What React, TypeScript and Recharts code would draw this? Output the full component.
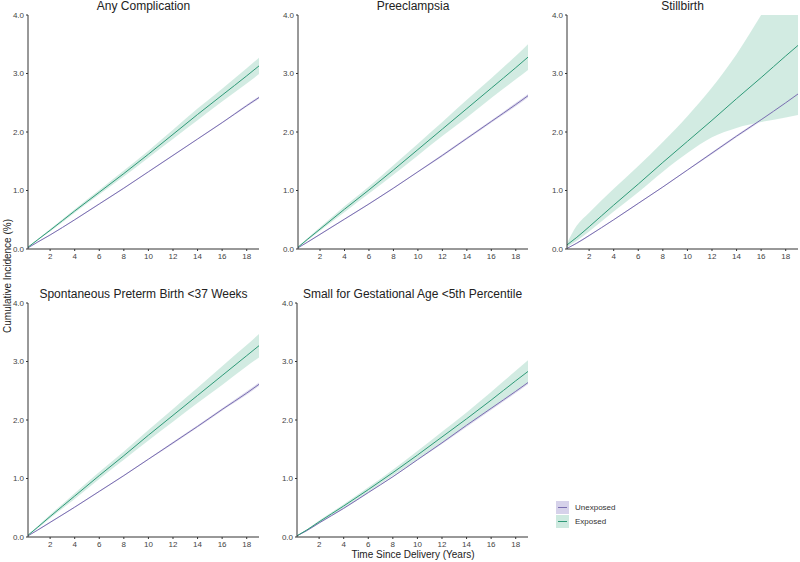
import React from "react";
import { ComposedChart, Line, Area, XAxis, YAxis } from "recharts";

const years = [0.2, 1, 2, 4, 6, 8, 10, 12, 14, 16, 18, 19];
const xTicks = [2, 4, 6, 8, 10, 12, 14, 16, 18];
const yTicks = [0, 1, 2, 3, 4];

const titles = [
  "Any Complication",
  "Preeclampsia",
  "Stillbirth",
  "Spontaneous Preterm Birth <37 Weeks",
  "Small for Gestational Age <5th Percentile",
];

// Any Complication
const anyExp = [0.03, 0.16, 0.32, 0.65, 0.97, 1.29, 1.62, 1.96, 2.3, 2.63, 2.96, 3.13];
const anyExpLo = [0.02, 0.15, 0.3, 0.62, 0.93, 1.24, 1.56, 1.88, 2.2, 2.52, 2.83, 2.99];
const anyExpHi = [0.04, 0.17, 0.34, 0.68, 1.01, 1.34, 1.68, 2.04, 2.4, 2.74, 3.09, 3.27];
const anyUnx = [0.02, 0.12, 0.24, 0.5, 0.77, 1.04, 1.32, 1.6, 1.88, 2.16, 2.45, 2.59];
const anyUnxLo = [0.02, 0.11, 0.23, 0.49, 0.76, 1.03, 1.31, 1.59, 1.87, 2.15, 2.43, 2.57];
const anyUnxHi = [0.02, 0.13, 0.25, 0.51, 0.78, 1.05, 1.33, 1.61, 1.89, 2.17, 2.47, 2.61];

// Preeclampsia
const preExp = [0.03, 0.17, 0.34, 0.68, 1.01, 1.35, 1.7, 2.05, 2.4, 2.75, 3.1, 3.28];
const preExpLo = [0.02, 0.15, 0.31, 0.63, 0.95, 1.27, 1.6, 1.93, 2.25, 2.58, 2.9, 3.06];
const preExpHi = [0.04, 0.19, 0.37, 0.73, 1.07, 1.43, 1.8, 2.17, 2.55, 2.92, 3.3, 3.5];
const preUnx = [0.02, 0.12, 0.25, 0.51, 0.77, 1.04, 1.32, 1.6, 1.89, 2.18, 2.47, 2.62];
const preUnxLo = [0.02, 0.11, 0.24, 0.5, 0.76, 1.03, 1.31, 1.58, 1.87, 2.16, 2.44, 2.59];
const preUnxHi = [0.02, 0.13, 0.26, 0.52, 0.78, 1.05, 1.33, 1.62, 1.91, 2.2, 2.5, 2.65];

// Stillbirth
const stbExp = [0.07, 0.2, 0.38, 0.75, 1.11, 1.48, 1.84, 2.2, 2.57, 2.93, 3.3, 3.48];
const stbExpLo = [0.03, 0.14, 0.3, 0.64, 0.97, 1.32, 1.64, 1.91, 2.07, 2.17, 2.25, 2.29];
const stbExpHi = [0.1, 0.4, 0.62, 1.03, 1.42, 1.83, 2.27, 2.76, 3.33, 4.0, 4.7, 5.05];
const stbUnx = [0.01, 0.1, 0.23, 0.5, 0.78, 1.06, 1.35, 1.64, 1.93, 2.21, 2.5, 2.65];
const stbUnxLo = [0.01, 0.09, 0.22, 0.49, 0.77, 1.05, 1.34, 1.62, 1.91, 2.19, 2.47, 2.62];
const stbUnxHi = [0.01, 0.11, 0.24, 0.51, 0.79, 1.07, 1.36, 1.66, 1.95, 2.23, 2.53, 2.68];

// Spontaneous Preterm Birth
const sptExp = [0.03, 0.17, 0.35, 0.7, 1.05, 1.39, 1.74, 2.08, 2.42, 2.76, 3.1, 3.27];
const sptExpLo = [0.02, 0.15, 0.32, 0.65, 0.99, 1.32, 1.65, 1.97, 2.29, 2.6, 2.92, 3.07];
const sptExpHi = [0.04, 0.19, 0.38, 0.75, 1.11, 1.46, 1.83, 2.19, 2.55, 2.92, 3.28, 3.47];
const sptUnx = [0.02, 0.12, 0.25, 0.51, 0.78, 1.05, 1.33, 1.61, 1.89, 2.18, 2.46, 2.61];
const sptUnxLo = [0.02, 0.11, 0.24, 0.5, 0.77, 1.04, 1.32, 1.59, 1.87, 2.16, 2.43, 2.58];
const sptUnxHi = [0.02, 0.13, 0.26, 0.52, 0.79, 1.06, 1.34, 1.63, 1.91, 2.2, 2.49, 2.64];

// Small for Gestational Age
const sgaExp = [0.02, 0.12, 0.26, 0.53, 0.81, 1.1, 1.4, 1.71, 2.02, 2.34, 2.67, 2.83];
const sgaExpLo = [0.02, 0.11, 0.24, 0.5, 0.77, 1.05, 1.33, 1.62, 1.91, 2.2, 2.5, 2.64];
const sgaExpHi = [0.03, 0.13, 0.28, 0.56, 0.85, 1.15, 1.47, 1.8, 2.13, 2.48, 2.84, 3.02];
const sgaUnx = [0.02, 0.11, 0.24, 0.49, 0.76, 1.03, 1.32, 1.61, 1.91, 2.2, 2.49, 2.64];
const sgaUnxLo = [0.02, 0.1, 0.23, 0.48, 0.75, 1.02, 1.31, 1.59, 1.88, 2.17, 2.46, 2.61];
const sgaUnxHi = [0.02, 0.12, 0.25, 0.5, 0.77, 1.04, 1.33, 1.63, 1.94, 2.23, 2.52, 2.67];

type Series = {
  exp: number[]; expLo: number[]; expHi: number[];
  unx: number[]; unxLo: number[]; unxHi: number[];
};

const panelSeries: Series[] = [
  { exp: anyExp, expLo: anyExpLo, expHi: anyExpHi, unx: anyUnx, unxLo: anyUnxLo, unxHi: anyUnxHi },
  { exp: preExp, expLo: preExpLo, expHi: preExpHi, unx: preUnx, unxLo: preUnxLo, unxHi: preUnxHi },
  { exp: stbExp, expLo: stbExpLo, expHi: stbExpHi, unx: stbUnx, unxLo: stbUnxLo, unxHi: stbUnxHi },
  { exp: sptExp, expLo: sptExpLo, expHi: sptExpHi, unx: sptUnx, unxLo: sptUnxLo, unxHi: sptUnxHi },
  { exp: sgaExp, expLo: sgaExpLo, expHi: sgaExpHi, unx: sgaUnx, unxLo: sgaUnxLo, unxHi: sgaUnxHi },
];

const buildRows = (s: Series) =>
  years.map((t, i) => ({
    t,
    exp: s.exp[i],
    expBand: [s.expLo[i], s.expHi[i]],
    unx: s.unx[i],
    unxBand: [s.unxLo[i], s.unxHi[i]],
  }));

// layout: [left, top, plotWidth]
const layout = [
  [0, 0, 231],
  [270, 0, 230],
  [539, 0, 231],
  [0, 288, 231],
  [269, 288, 231],
];

const FONT = "'Liberation Sans', Arial, sans-serif";
const EXP_LINE = "#2f9a78";
const EXP_BAND = "#cde9df";
const UNX_LINE = "#7b6fb1";
const UNX_BAND = "#d6d2ea";
const AXIS = "#333333";

const Y_W = 28;
const TOP = 15;
const X_H = 20;
const PLOT_H = 234;

function Panel({ idx }: { idx: number }) {
  const [left, top, pw] = layout[idx];
  const rows = buildRows(panelSeries[idx]);
  const w = Y_W + pw + 1;
  const h = TOP + PLOT_H + X_H;
  return (
    <div style={{ position: "absolute", left, top, width: w, height: h }}>
      <div
        style={{
          position: "absolute",
          left: Y_W,
          width: pw,
          top: -1,
          textAlign: "center",
          fontFamily: FONT,
          fontSize: 12,
          color: "#222",
          whiteSpace: "nowrap",
          lineHeight: "14px",
        }}
      >
        {titles[idx]}
      </div>
      <ComposedChart
        width={w}
        height={h}
        data={rows}
        margin={{ top: TOP, right: 1, left: 0, bottom: 0 }}
      >
        <XAxis
          dataKey="t"
          type="number"
          domain={[0.2, 19]}
          ticks={xTicks}
          allowDataOverflow
          height={X_H}
          tickSize={2}
          stroke={AXIS}
          tick={{ fontSize: 8, fill: "#444", fontFamily: FONT }}
          tickLine={{ stroke: AXIS }}
        />
        <YAxis
          type="number"
          domain={[0, 4]}
          ticks={yTicks}
          allowDataOverflow
          width={Y_W}
          tickSize={2}
          stroke={AXIS}
          tickFormatter={(v: number) => v.toFixed(1)}
          tick={{ fontSize: 8, fill: "#444", fontFamily: FONT }}
          tickLine={{ stroke: AXIS }}
        />
        <Area
          dataKey="unxBand"
          type="monotone"
          stroke="none"
          fill={UNX_BAND}
          fillOpacity={0.8}
          isAnimationActive={false}
          dot={false}
          activeDot={false}
        />
        <Area
          dataKey="expBand"
          type="monotone"
          stroke="none"
          fill={EXP_BAND}
          fillOpacity={0.9}
          isAnimationActive={false}
          dot={false}
          activeDot={false}
        />
        <Line
          dataKey="unx"
          type="monotone"
          stroke={UNX_LINE}
          strokeWidth={1}
          dot={false}
          activeDot={false}
          isAnimationActive={false}
        />
        <Line
          dataKey="exp"
          type="monotone"
          stroke={EXP_LINE}
          strokeWidth={1}
          dot={false}
          activeDot={false}
          isAnimationActive={false}
        />
      </ComposedChart>
    </div>
  );
}

function Swatch({ band, line }: { band: string; line: string }) {
  return (
    <svg width={13} height={13} style={{ display: "block" }}>
      <rect x={0} y={0} width={13} height={13} fill={band} />
      <line x1={2} x2={11} y1={6.5} y2={6.5} stroke={line} strokeWidth={1} />
    </svg>
  );
}

export default function App() {
  return (
    <div
      style={{
        position: "absolute",
        left: 0,
        top: 0,
        width: 800,
        height: 562,
        background: "#fff",
        overflow: "hidden",
        fontFamily: FONT,
      }}
    >
      {[0, 1, 2, 3, 4].map((i) => (
        <Panel key={i} idx={i} />
      ))}
      <div
        style={{
          position: "absolute",
          left: 8 - 60,
          top: 276 - 7,
          width: 120,
          textAlign: "center",
          transform: "rotate(-90deg)",
          fontSize: 10,
          lineHeight: "14px",
          color: "#222",
          whiteSpace: "nowrap",
        }}
      >
        Cumulative Incidence (%)
      </div>
      <div
        style={{
          position: "absolute",
          left: 413 - 100,
          top: 548,
          width: 200,
          textAlign: "center",
          fontSize: 10,
          lineHeight: "14px",
          color: "#222",
          whiteSpace: "nowrap",
        }}
      >
        Time Since Delivery (Years)
      </div>
      <div style={{ position: "absolute", left: 556, top: 500 }}>
        <div style={{ display: "flex", alignItems: "center", height: 14 }}>
          <Swatch band={UNX_BAND} line={UNX_LINE} />
          <span style={{ marginLeft: 6, fontSize: 8, color: "#333" }}>Unexposed</span>
        </div>
        <div style={{ display: "flex", alignItems: "center", height: 14 }}>
          <Swatch band={EXP_BAND} line={EXP_LINE} />
          <span style={{ marginLeft: 6, fontSize: 8, color: "#333" }}>Exposed</span>
        </div>
      </div>
    </div>
  );
}
